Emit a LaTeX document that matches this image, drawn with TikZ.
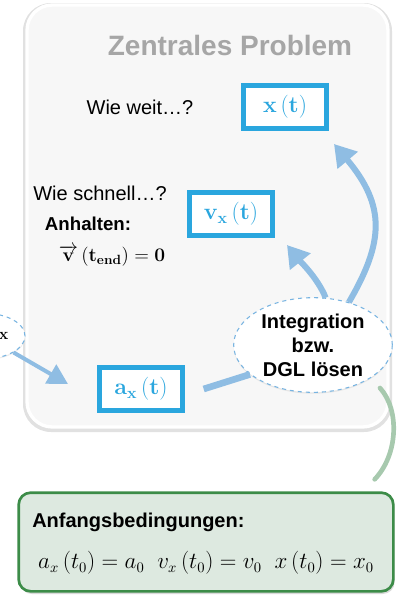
\documentclass[tikz,border=0pt]{standalone}
\usepackage[no-math]{fontspec}
\setmainfont{Liberation Sans}
\usepackage{amsmath}
\usepackage{tikz}
\usetikzlibrary{positioning,shapes,arrows.meta,shadows,calc}
\definecolor{boxblue}{RGB}{42,166,222}
\definecolor{arrblue}{RGB}{143,189,227}
\definecolor{dashblue}{RGB}{120,180,225}
\definecolor{panelgray}{RGB}{247,247,247}
\definecolor{rimgray}{RGB}{225,225,225}
\definecolor{titlegray}{RGB}{166,166,166}
\definecolor{darkgreen}{RGB}{60,140,72}
\definecolor{palegreen}{RGB}{221,233,224}
\definecolor{linkgreen}{RGB}{167,201,174}
\tikzstyle{qt}=[%
      rectangle, draw=boxblue, line width=4pt, fill=white, text=boxblue,
      minimum width=62pt, minimum height=32pt, inner sep=2pt,
      drop shadow={shadow xshift=1pt, shadow yshift=-1pt, opacity=0.25}
]
\tikzstyle{bubble}=[%
      ellipse, draw=dashblue, dashed, thick, fill=white, align=center,
      font=\bfseries\fontsize{15}{18}\selectfont, inner sep=0pt,
      drop shadow={shadow xshift=0pt, shadow yshift=-1pt, opacity=0.15}
]
\tikzstyle{ask}=[%
      font=\fontsize{15}{18}\selectfont, inner sep=0pt
]
\tikzstyle{flow}=[%
      arrblue, line width=4.5pt, -{Triangle[width=19pt,length=16pt]}
]

\begin{document}
\begin{tikzpicture}[x=0.75pt, y=-0.75pt,
    panel/.style={%
      fill=panelgray, draw=white, line width=2.5pt, rounded corners=19pt
    },
    initbox/.style={%
      rectangle, draw=darkgreen, line width=2pt, fill=palegreen, rounded corners=9pt,
      minimum width=281pt, minimum height=74pt,
      drop shadow={shadow xshift=1pt, shadow yshift=-2pt, opacity=0.3}
    },
]
    \useasboundingbox (0,0) rectangle (405,601);

    % main panel (soft rim, then the panel)
    \fill[rimgray, rounded corners=21pt] (23,3) rectangle (392,432);
    \draw[panel] (27,5) rectangle (388,427);
    \node[font=\bfseries\fontsize{21}{25}\selectfont, text=titlegray] (title) at (230,45) {Zentrales Problem};

    % questions
    \node[ask] (far)  at (140,107) {Wie weit…?};
    \node[ask] (fast) at (100,193) {Wie schnell…?};
    \node[ask, font=\bfseries\fontsize{14}{17}\selectfont] (stop) at (88,224) {Anhalten:};
    \node[inner sep=0pt, font=\fontsize{14}{17}\selectfont] (stopeq) at (112,256)
        {$\overrightarrow{\mathbf{v}}\,\mathbf{\left(t_{end}\right)=0}$};

    % quantities
    \node[qt, font=\fontsize{17}{20}\selectfont] (xt) at (285,107) {$\mathbf{x\left(t\right)}$};
    \node[qt, font=\fontsize{17}{20}\selectfont] (vx) at (231,214) {$\mathbf{v_x\left(t\right)}$};
    \node[qt, font=\fontsize{17}{20}\selectfont] (ax) at (141,389) {$\mathbf{a_x\left(t\right)}$};

    \node[bubble, minimum width=119pt, minimum height=71pt] (integ) at (313,345)
        {Integration\\bzw.\\DGL lösen};
    \node[bubble, minimum width=60pt, minimum height=34pt, font=\fontsize{12}{14}\selectfont] (fx) at (-15,336)
        {\hspace*{28pt}$\mathbf{x}$};

    % connectors
    \draw[arrblue, line width=3pt, -{Triangle[width=16pt,length=15pt]}]
        (fx.-30) -- ([shift={(-29,-5)}]ax.west);
    \draw[arrblue, line width=5pt] ([xshift=14]ax.east) -- (integ.205);
    \draw[flow] (integ.75) .. controls +(-8,-20) and +(12,15) .. ([shift={(12,7)}]vx.south east);
    \draw[flow] (integ.50) .. controls +(35,-60) and +(52,62) .. ([shift={(5,13)}]xt.south east);

    % initial conditions
    \node[initbox] (init) at (206,542) {};
    \node[font=\bfseries\fontsize{15}{18}\selectfont, anchor=west, inner sep=0pt] (inithead) at (32,522)
        {Anfangsbedingungen:};
    \node[font=\fontsize{16}{19}\selectfont, inner sep=0pt] (initeq) at (206,563)
        {$a_x\left(t_0\right)=a_0\;\;v_x\left(t_0\right)=v_0\;\;x\left(t_0\right)=x_0$};

    \coordinate (g0) at (380,388);
    \draw[linkgreen, line width=3.5pt, line cap=round]
        (g0) .. controls (400,410) and (398,455) .. ([shift={(-20,-12)}]init.north east);
\end{tikzpicture}
\end{document}
